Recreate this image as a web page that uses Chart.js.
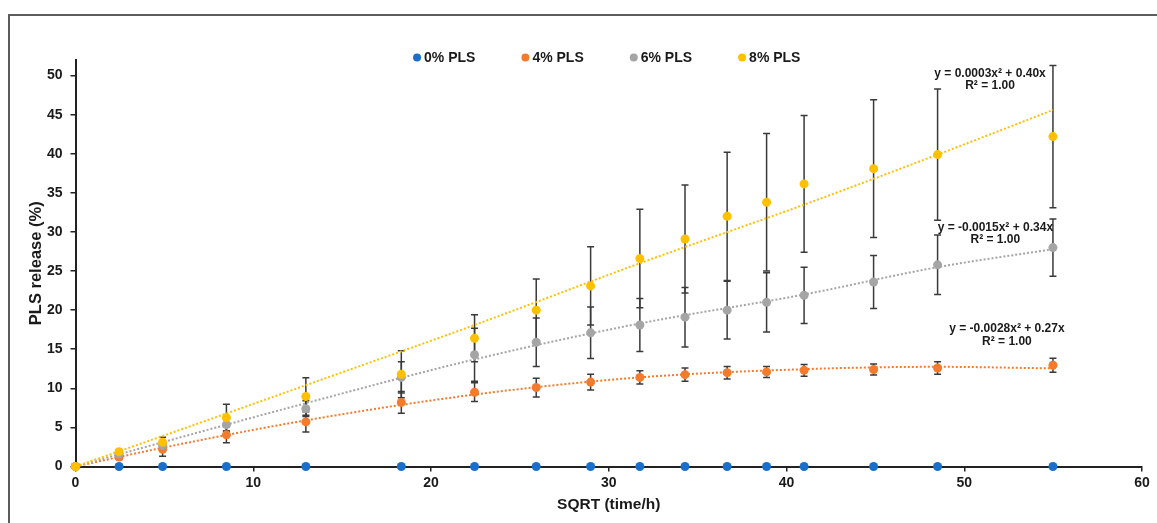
<!DOCTYPE html>
<html>
<head>
<meta charset="utf-8">
<script src="https://cdn.jsdelivr.net/npm/chart.js@4"></script>
<style>
  html, body { margin: 0; padding: 0; background: #fff; }
  #wrap { position: relative; width: 1157px; height: 523px; overflow: hidden; }
  #frame { position: absolute; left: 8px; top: 14px; width: 1300px; height: 700px;
           border: 2px solid #5c5c5c; box-sizing: border-box; }
  canvas { position: absolute; left: 0; top: 0; }
</style>
</head>
<body>
<div id="wrap">
  <div id="frame"></div>
  <canvas id="chart" width="1157" height="523"></canvas>
</div>
<script>
// sqrt(time/h) sampling points
const xValues = [0, 2.45, 4.90, 8.49, 12.96, 18.33, 22.45, 25.92, 28.98, 31.75, 34.29, 36.66, 38.88, 40.99, 44.90, 48.50, 54.99];

// release (%) per formulation
const pls0 = [0, 0, 0, 0, 0, 0, 0, 0, 0, 0, 0, 0, 0, 0, 0, 0, 0];
const pls4 = [0, 1.2, 2.2, 4.05, 5.7, 8.2, 9.5, 10.1, 10.8, 11.4, 11.75, 12.0, 12.1, 12.3, 12.4, 12.6, 12.95];
const pls6 = [0, 1.6, 2.7, 5.35, 7.4, 11.4, 14.3, 15.9, 17.1, 18.1, 19.1, 20.0, 21.0, 21.9, 23.6, 25.8, 28.0];
const pls8 = [0, 1.9, 3.1, 6.25, 8.95, 11.8, 16.4, 20.0, 23.1, 26.6, 29.1, 32.0, 33.8, 36.15, 38.1, 39.9, 42.2];

// +/- error (SD)
const err0 = [0, 0, 0, 0, 0, 0, 0, 0, 0, 0, 0, 0, 0, 0, 0, 0, 0];
const err4 = [0, 0.3, 0.9, 1.0, 1.3, 1.4, 1.2, 1.2, 1.0, 0.85, 0.85, 0.8, 0.7, 0.75, 0.7, 0.8, 0.9];
const err6 = [0, 0.2, 0.5, 0.8, 1.0, 2.0, 3.4, 3.1, 3.3, 3.4, 3.8, 3.7, 3.8, 3.6, 3.4, 3.8, 3.65];
const err8 = [0, 0.2, 0.65, 1.7, 2.4, 3.0, 3.0, 4.0, 5.0, 6.3, 6.9, 8.2, 8.8, 8.75, 8.8, 8.4, 9.1];

// polynomial trendlines
const trendX = [0, 4.90, 12.96, 22.45, 31.75, 40.99, 48.50, 54.99];
const trend4 = [0, 2.4, 5.9, 9.2, 11.4, 12.45, 12.75, 12.55];
const trend6 = [0, 3.1, 8.1, 13.7, 18.3, 22.0, 25.5, 27.8];
const trend8 = [0, 3.9, 10.4, 18.1, 26.0, 33.5, 39.9, 45.6];

const seriesLabels = ['0% PLS', '4% PLS', '6% PLS', '8% PLS'];
const equations = [
  null,
  ['y = -0.0028x² + 0.27x', 'R² = 1.00'],
  ['y = -0.0015x² + 0.34x', 'R² = 1.00'],
  ['y = 0.0003x² + 0.40x', 'R² = 1.00'],
];

const xTicks = [0, 10, 20, 30, 40, 50, 60];
const yTicks = [0, 5, 10, 15, 20, 25, 30, 35, 40, 45, 50];

const colors = ['#1a6fcc', '#f47b2b', '#a5a5a5', '#ffc000'];
const FONT = '"Liberation Sans", Arial, sans-serif';
const TEXT = '#1a1a1a';

const values = [pls0, pls4, pls6, pls8];
const errors = [err0, err4, err6, err8];
const trends = [null, trend4, trend6, trend8];

// where the equation labels sit (data units)
const eqPos = [null, { x: 52.4, y: 17.6 }, { x: 51.75, y: 30.6 }, { x: 51.45, y: 50.3 }];

const toPts = (xs, ys) => xs.map((x, i) => ({ x: x, y: ys[i] }));

// lower "order" is painted on top, so later series sit above earlier ones
const datasets = [];
trends.forEach((t, i) => {
  if (!t) return;
  datasets.push({
    label: 'trend ' + seriesLabels[i],
    data: toPts(trendX, t),
    showLine: true,
    borderColor: colors[i],
    borderWidth: 2,
    borderDash: [2, 2],
    pointRadius: 0,
    cubicInterpolationMode: 'monotone',
    clip: false,
    order: 10 - i,
  });
});
values.forEach((v, i) => {
  datasets.push({
    label: seriesLabels[i],
    data: toPts(xValues, v),
    showLine: false,
    backgroundColor: colors[i],
    borderColor: colors[i],
    pointRadius: 4.5,
    pointBorderWidth: 0,
    clip: false,
    order: 4 - i,
  });
});

// error bars, drawn under the markers
const errorBars = {
  id: 'errorBars',
  beforeDatasetsDraw(chart) {
    const { ctx, scales: { x, y } } = chart;
    ctx.save();
    ctx.strokeStyle = '#3a3a3a';
    ctx.lineWidth = 1.5;
    errors.forEach((errs, s) => {
      errs.forEach((e, i) => {
        if (!e) return;
        const px = x.getPixelForValue(xValues[i]);
        const top = y.getPixelForValue(values[s][i] + e);
        const bot = y.getPixelForValue(values[s][i] - e);
        ctx.beginPath();
        ctx.moveTo(px, top); ctx.lineTo(px, bot);
        ctx.moveTo(px - 3.5, top); ctx.lineTo(px + 3.5, top);
        ctx.moveTo(px - 3.5, bot); ctx.lineTo(px + 3.5, bot);
        ctx.stroke();
      });
    });
    ctx.restore();
  }
};

// trendline equations
const eqLabels = {
  id: 'eqLabels',
  afterDatasetsDraw(chart) {
    const { ctx, scales: { x, y } } = chart;
    ctx.save();
    ctx.font = 'bold 12px ' + FONT;
    ctx.fillStyle = TEXT;
    ctx.textAlign = 'center';
    ctx.textBaseline = 'middle';
    equations.forEach((lines, i) => {
      if (!lines) return;
      const px = x.getPixelForValue(eqPos[i].x);
      const py = y.getPixelForValue(eqPos[i].y);
      lines.forEach((t, k) => ctx.fillText(t, px, py + k * 12.5));
    });
    ctx.restore();
  }
};

// legend across the top of the plot
const topLegend = {
  id: 'topLegend',
  afterDraw(chart) {
    const { ctx, chartArea } = chart;
    ctx.save();
    ctx.font = 'bold 14px ' + FONT;
    ctx.textBaseline = 'middle';
    const r = 4, gap = 3, spacing = 46;
    const widths = seriesLabels.map(l => 2 * r + gap + ctx.measureText(l).width);
    const total = widths.reduce((a, b) => a + b, 0) + spacing * (widths.length - 1);
    let cx = (chartArea.left + chartArea.right) / 2 - total / 2 - 2;
    const cy = 57.5;
    seriesLabels.forEach((l, i) => {
      ctx.fillStyle = colors[i];
      ctx.beginPath();
      ctx.arc(cx + r, cy, r, 0, Math.PI * 2);
      ctx.fill();
      ctx.fillStyle = TEXT;
      ctx.fillText(l, cx + 2 * r + gap, cy + 0.5);
      cx += widths[i] + spacing;
    });
    ctx.restore();
  }
};

new Chart(document.getElementById('chart'), {
  type: 'scatter',
  data: { datasets },
  plugins: [errorBars, eqLabels, topLegend],
  options: {
    responsive: false,
    animation: false,
    layout: { padding: { left: 0, right: 15, top: 60, bottom: 0 } },
    plugins: {
      legend: { display: false },
      tooltip: { enabled: false },
    },
    scales: {
      x: {
        type: 'linear',
        min: 0,
        max: 60,
        afterBuildTicks: s => { s.ticks = xTicks.map(v => ({ value: v })); },
        afterFit: s => { s.height = 56.5; },
        grid: { drawOnChartArea: false, drawTicks: true, tickLength: 5, color: '#222', lineWidth: 1.5 },
        border: { display: true, color: '#222', width: 2 },
        ticks: { color: TEXT, padding: 3, maxRotation: 0, font: { family: FONT, size: 14, weight: 'bold' } },
        title: {
          display: true, text: 'SQRT (time/h)', color: TEXT,
          padding: { top: 0, bottom: 9 },
          font: { family: FONT, size: 15.5, weight: 'bold' },
        },
      },
      y: {
        type: 'linear',
        min: 0,
        max: 52,
        afterBuildTicks: s => { s.ticks = yTicks.map(v => ({ value: v })); },
        afterFit: s => { s.width = 75.5; },
        grid: { drawOnChartArea: false, drawTicks: true, tickLength: 5, color: '#222', lineWidth: 1.5 },
        border: { display: true, color: '#222', width: 2 },
        ticks: { color: TEXT, padding: 8, font: { family: FONT, size: 14, weight: 'bold' } },
        title: {
          display: true, text: 'PLS release (%)', color: TEXT,
          padding: { top: 27, bottom: 0 },
          font: { family: FONT, size: 16.5, weight: 'bold' },
        },
      },
    },
  },
});
</script>
</body>
</html>
